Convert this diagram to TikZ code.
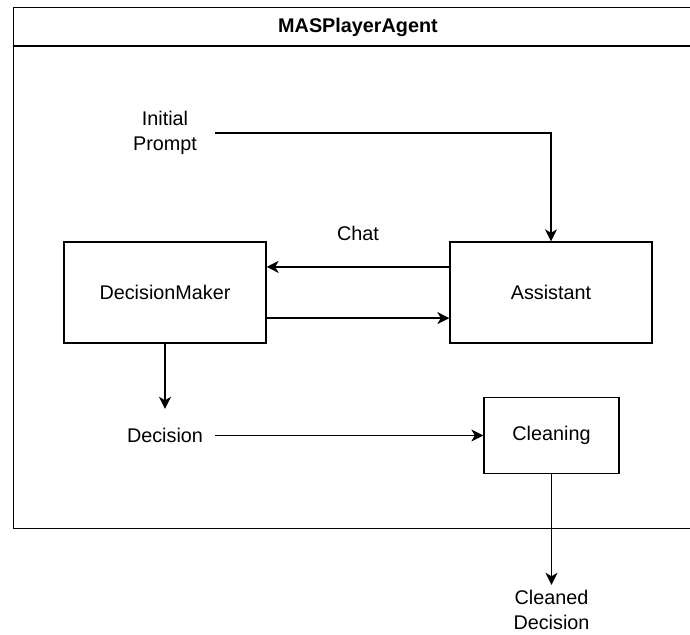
\documentclass[tikz,border=0pt]{standalone}
\usepackage{fontspec}
\setmainfont{Liberation Sans}
\usetikzlibrary{arrows.meta,calc}
\tikzset{
  box/.style={draw, line width=1.3pt, rectangle, inner sep=0pt},
  lbl/.style={inner sep=0pt, align=center, minimum width=100pt},
  arr/.style={line width=1.3pt, -{Stealth[length=12pt,width=12pt,inset=3.5pt]}},
}
\begin{document}
\begin{tikzpicture}[x=1pt,y=-1pt,font=\fontsize{19.8}{24.5}\selectfont]
\clip (0,0) rectangle (690,634);
\fill[white] (0,0) rectangle (690,634);
% frame
\node[box, anchor=north west, minimum width=690pt, minimum height=521pt] (frame) at (13,7) {};
\coordinate (sepL) at (13,46);
\coordinate (sepR) at (703,46);
\draw[line width=1.3pt] (sepL) -- (sepR);
\node[font=\fontsize{19.8}{24}\selectfont\bfseries] (title) at (358,27) {MASPlayerAgent};
% boxes
\node[box, minimum width=202pt, minimum height=101pt] (dm) at (165,292.5) {DecisionMaker};
\node[box, minimum width=202pt, minimum height=101pt] (as) at (551,292.5) {Assistant};
\node[box, minimum width=135pt, minimum height=76pt] (cl) at (551.5,435.5) {Cleaning};
% labels
\node[lbl, minimum height=50pt] (ip) at (165,133) {Initial\\Prompt};
\node (chat) at (358,233) {Chat};
\node[lbl, minimum height=53pt] (dec) at (165,435.5) {Decision};
\node[lbl, minimum height=50pt] (cd) at (551.5,610) {Cleaned\\Decision};
% connectors
\draw[arr] (ip.east) -| (as.north);
\draw[arr] ($(as.north west)!0.25!(as.south west)$) -- ($(dm.north east)!0.25!(dm.south east)$);
\draw[arr] ($(dm.north east)!0.75!(dm.south east)$) -- ($(as.north west)!0.75!(as.south west)$);
\draw[arr] (dm.south) -- (dec.north);
\draw[arr] (dec.east) -- (cl.west);
\draw[arr] (cl.south) -- (cd.north);
\end{tikzpicture}
\end{document}
